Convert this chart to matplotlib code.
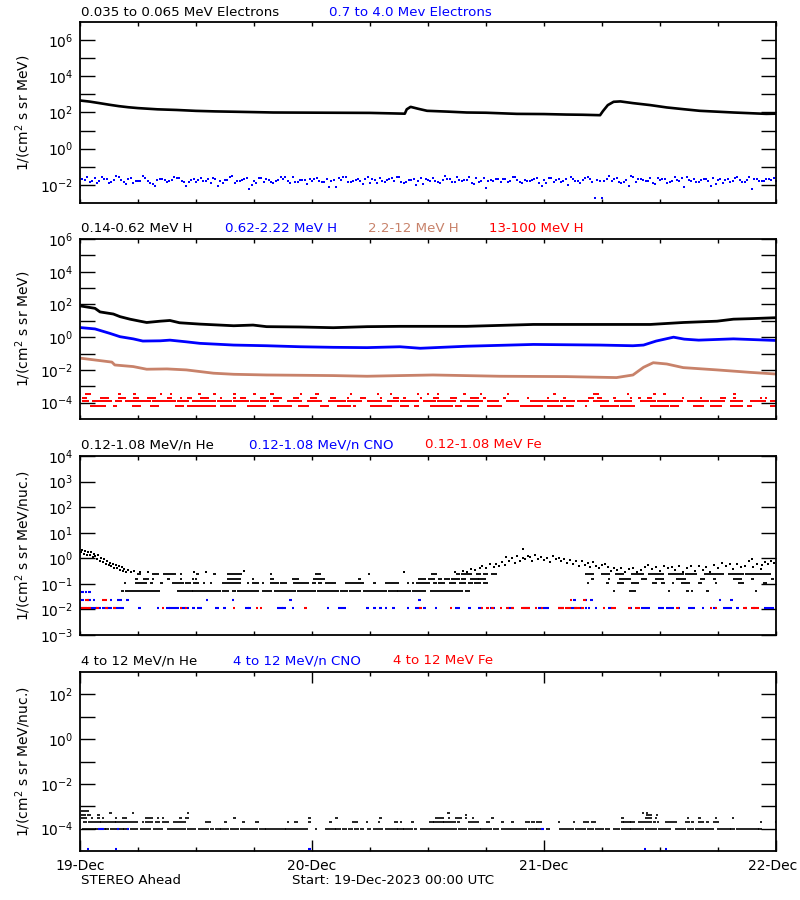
import numpy as np
import matplotlib as mpl
mpl.use('Agg')
import matplotlib.pyplot as plt
import matplotlib.transforms as mtransforms
from matplotlib.ticker import FixedLocator, NullFormatter, FuncFormatter

# ---------------- data (time in hours from 19-Dec-2023 00:00 UTC) ----------------
BLUE = '#0000FF'
RED = '#FF0000'
TAN = '#C8826A'

# panel 1: 0.035-0.065 MeV electrons (black line)
e_low_t = [0, 1, 2, 3, 4, 5, 6, 8, 10, 12, 14, 16, 18, 20, 22, 24, 26, 28, 30, 32, 33.6,
           33.8, 34.2, 35.0, 35.9, 38, 40, 42, 45.2, 48, 50.3, 52, 53.8, 54.1, 54.6, 55.2,
           55.9, 57.2, 59, 60.7, 62.4, 64.1, 67.6, 71, 72]
e_low_v = [460, 400, 330, 270, 225, 195, 175, 150, 138, 123, 115, 110, 105, 100, 99, 98, 97,
           96, 95, 90, 86, 150, 205, 160, 124, 112, 100, 97, 84, 82, 77, 75, 71, 120, 256, 390,
           410, 330, 256, 190, 153, 124, 100, 84, 86]

# panel 1: 0.7-4.0 MeV electrons (blue scatter), sampled every 0.5 h and twice hourly offsets
e_high_a = [0.008, 0.019, 0.014, 0.024, 0.016, 0.021, 0.012, 0.018, 0.027, 0.015,
            0.020, 0.013, 0.017, 0.030, 0.016, 0.011, 0.019, 0.022, 0.014, 0.018,
            0.025, 0.016, 0.009, 0.019, 0.015, 0.023, 0.017, 0.013, 0.021, 0.016,
            0.018, 0.027, 0.012, 0.017, 0.020, 0.006, 0.016, 0.024, 0.015, 0.019,
            0.013, 0.018, 0.022, 0.016, 0.028, 0.014, 0.019, 0.011, 0.017, 0.023,
            0.015, 0.020, 0.016, 0.008, 0.018, 0.026, 0.014, 0.019, 0.017, 0.021,
            0.012, 0.018, 0.024, 0.015, 0.020, 0.016, 0.029, 0.013, 0.018, 0.022,
            0.016, 0.011, 0.019, 0.025, 0.015, 0.018, 0.021, 0.014, 0.026, 0.017,
            0.019, 0.013, 0.023, 0.016, 0.007, 0.018, 0.022, 0.015, 0.020, 0.017,
            0.027, 0.014, 0.019, 0.016, 0.021, 0.012, 0.018, 0.024, 0.015, 0.020,
            0.017, 0.010, 0.022, 0.016, 0.019, 0.028, 0.014, 0.018, 0.0019, 0.021,
            0.016, 0.025, 0.013, 0.019, 0.031, 0.015, 0.020, 0.017, 0.023, 0.011,
            0.018, 0.021, 0.015, 0.026, 0.017, 0.008, 0.019, 0.022, 0.014, 0.020,
            0.016, 0.024, 0.018, 0.013, 0.021, 0.017, 0.027, 0.015, 0.019, 0.006,
            0.022, 0.016, 0.020, 0.018, 0.017]
e_high_b = [0.021, 0.016, 0.026, 0.014, 0.018, 0.023, 0.017, 0.012, 0.020, 0.016,
            0.025, 0.015, 0.019, 0.022, 0.009, 0.018, 0.016, 0.024, 0.013, 0.020,
            0.017, 0.028, 0.015, 0.019, 0.021, 0.014, 0.018, 0.026, 0.016, 0.011,
            0.020, 0.017, 0.023, 0.015, 0.019, 0.024, 0.016, 0.013, 0.021, 0.018,
            0.027, 0.015, 0.017, 0.022, 0.014, 0.019, 0.016, 0.025, 0.012, 0.018,
            0.020, 0.016, 0.023, 0.0019, 0.017, 0.021, 0.015, 0.029, 0.018, 0.013,
            0.020, 0.016, 0.024, 0.017, 0.019, 0.009, 0.022, 0.015, 0.018, 0.026,
            0.016, 0.020]
e_high_c = [0.026, 0.013, 0.020, 0.031, 0.011, 0.017, 0.024, 0.009, 0.019, 0.028,
            0.014, 0.021, 0.016, 0.025, 0.012, 0.030, 0.018, 0.010, 0.023, 0.015,
            0.027, 0.013, 0.019, 0.022, 0.016, 0.008, 0.024, 0.014, 0.020, 0.029,
            0.012, 0.018, 0.026, 0.015, 0.010, 0.022, 0.017, 0.031, 0.014, 0.019,
            0.011, 0.025, 0.016, 0.021, 0.028, 0.013, 0.018, 0.009, 0.023, 0.015,
            0.027, 0.012, 0.020, 0.017, 0.030, 0.014, 0.0085, 0.022, 0.016, 0.025,
            0.013, 0.019, 0.028, 0.015, 0.021, 0.011, 0.018, 0.024, 0.014, 0.020,
            0.017, 0.023]

# panel 2: proton channels (lines)
h1_t = [0.17, 1.55, 2.07, 3.45, 4.14, 5.17, 6.2, 6.9, 8.3, 9.3, 10.3, 12.4, 15.9, 17.9, 19.3,
        22.8, 26.2, 29.7, 33.1, 40, 46.9, 53.8, 59, 62.4, 65.9, 67.6, 69.3, 72]
h1_v = [79, 58, 35, 26, 18, 12.6, 9.5, 7.9, 9.5, 10.5, 7.6, 6.3, 5.0, 5.5, 4.4,
        4.2, 3.8, 4.4, 4.6, 4.6, 6.0, 6.0, 6.0, 7.9, 9.5, 12.6, 13.5, 15.5]
h2_t = [0.17, 1.55, 3.1, 4.14, 5.5, 6.5, 8.3, 9.3, 11.0, 12.4, 15.9, 19.3, 22.8, 26.2, 29.7,
        33.1, 35.2, 40, 46.9, 53.8, 57.2, 58.3, 59.6, 61.4, 62.5, 64, 67.6, 72]
h2_v = [3.8, 3.2, 1.7, 1.07, 0.79, 0.58, 0.60, 0.66, 0.52, 0.42, 0.33, 0.30, 0.26, 0.24, 0.23,
        0.26, 0.21, 0.28, 0.36, 0.33, 0.30, 0.33, 0.58, 1.0, 0.76, 0.66, 0.79, 0.63]
h3_t = [0.17, 2.07, 3.3, 3.6, 5.5, 6.9, 9.0, 11.0, 13.8, 15.9, 19.3, 22.8, 26.2, 29.7, 33.1,
        36.5, 43.4, 50.3, 55.5, 57.2, 58.3, 59.3, 60.7, 62.4, 65.9, 69.3, 72]
h3_v = [0.051, 0.037, 0.030, 0.020, 0.016, 0.011, 0.0115, 0.010, 0.0063, 0.0054, 0.0049,
        0.0047, 0.0045, 0.0041, 0.0045, 0.0049, 0.0041, 0.0039, 0.0034, 0.0049, 0.0145,
        0.0275, 0.023, 0.0138, 0.010, 0.0071, 0.0056]

# panel 2: 13-100 MeV H (red, quantised levels) -> runs (t_start, t_end)
h4_levels = [6.5e-5, 1.3e-4, 1.95e-4, 3.25e-4]
h4_runs = [
    [(1.03, 2.41), (3.45, 3.62), (5.34, 6.03), (7.24, 7.93), (9.83, 10.52), (11.03, 13.79),
     (14.48, 15.86), (17.24, 18.97), (20.0, 21.72), (22.59, 23.45), (24.83, 25.52),
     (26.55, 27.76), (28.28, 28.28), (30.0, 32.07), (33.1, 33.8), (34.5, 34.8), (36.2, 38.3),
     (38.8, 39.3), (40.0, 41.0), (42.1, 43.4), (45.5, 47.6), (48.3, 49.7), (50.3, 50.9),
     (52.2, 52.2), (53.8, 55.5), (55.9, 57.2), (59.0, 60.7), (61.0, 61.7), (63.4, 64.3),
     (65.2, 66.2), (67.2, 68.3), (69.0, 69.3), (71.4, 72.0)],
    [(0.17, 0.69), (1.2, 3.1), (3.62, 4.14), (4.66, 6.21), (6.38, 7.07), (7.41, 9.65),
     (10.0, 11.03), (11.55, 13.79), (14.14, 15.52), (15.86, 17.24), (17.59, 19.31),
     (19.66, 20.34), (21.38, 22.76), (23.45, 24.83), (25.69, 27.24), (27.59, 28.97),
     (29.66, 31.03), (31.72, 32.76), (33.1, 34.8), (35.5, 36.55), (36.9, 38.6), (39.3, 41.4),
     (42.1, 43.1), (44.1, 45.2), (46.55, 47.6), (47.9, 49.3), (49.65, 51.0), (51.4, 52.4),
     (53.1, 54.5), (55.2, 56.9), (57.9, 59.3), (59.65, 62.1), (62.75, 64.8), (65.2, 66.5),
     (67.2, 68.3), (69.3, 70.7), (71.4, 72.0)],
    [(0.17, 0.52), (2.07, 2.76), (3.97, 4.48), (5.52, 5.86), (6.9, 7.59), (8.97, 9.31),
     (10.34, 10.34), (11.03, 11.38), (12.41, 13.1), (14.48, 14.48), (15.86, 15.86),
     (16.55, 16.9), (18.62, 18.97), (20.0, 20.69), (22.07, 22.41), (23.79, 24.31),
     (25.86, 26.2), (27.59, 27.59), (28.97, 29.31), (31.03, 31.03), (32.41, 32.76),
     (33.45, 33.45), (35.17, 35.17), (36.55, 36.89), (38.27, 38.79), (40.34, 41.03),
     (41.72, 41.72), (43.79, 43.79), (46.2, 46.2), (48.27, 48.27), (50.0, 50.0),
     (52.58, 52.93), (53.44, 53.79), (55.17, 55.17), (56.89, 56.89), (57.75, 57.75),
     (58.62, 58.96), (62.24, 62.24), (64.13, 64.13), (66.2, 66.54), (67.58, 67.58),
     (70.34, 70.34), (70.86, 70.86)],
    [(0.52, 0.86), (3.97, 3.97), (5.52, 5.52), (8.28, 8.28), (9.31, 9.31), (12.24, 12.24),
     (13.79, 13.79), (15.86, 15.86), (17.93, 17.93), (19.66, 19.83), (22.76, 22.76),
     (24.31, 24.48), (27.93, 27.93), (30.69, 30.69), (32.07, 32.07), (34.82, 34.82),
     (35.86, 35.86), (36.89, 36.89), (39.65, 39.65), (41.38, 41.38), (44.13, 44.13),
     (48.96, 48.96), (53.1, 53.44), (56.55, 56.55), (59.3, 59.3), (60.34, 60.34),
     (67.58, 67.58)],
]

# panel 3: 0.12-1.08 MeV/n He (black), quantised low levels -> runs
he3_levels = [0.052, 0.11, 0.16, 0.24]
he3_runs = [
    [(4.2, 4.35), (4.65, 4.8), (5.1, 5.35), (5.6, 6.55), (6.8, 7.25), (7.5, 8.0), (10.0, 10.3),
     (10.5, 11.4), (11.6, 11.7), (12.0, 12.5), (12.7, 14.3), (14.65, 15.2), (15.7, 15.85),
     (16.2, 18.3), (18.8, 19.65), (20.1, 20.7), (21.0, 22.05), (22.4, 22.9), (23.2, 24.15),
     (24.5, 26.55), (26.9, 27.5), (27.85, 28.8), (29.25, 30.0), (30.2, 31.55), (31.9, 32.6),
     (32.75, 33.95), (34.3, 35.5), (36.2, 39.4), (39.8, 40.1), (55.1, 55.1), (56.8, 57.3),
     (60.8, 60.8), (62.7, 62.7), (63.2, 63.2), (64.8, 64.8), (69.8, 69.8)],
    [(4.5, 4.5), (5.7, 6.7), (7.25, 7.25), (8.3, 8.3), (9.5, 10.5), (10.9, 11.2), (11.7, 11.7),
     (12.05, 12.05), (12.7, 12.7), (13.45, 13.45), (14.65, 16.4), (17.25, 17.25),
     (17.75, 18.3), (18.8, 18.8), (19.65, 20.35), (20.7, 21.2), (22.05, 23.45), (24.0, 24.15),
     (24.65, 24.8), (25.35, 26.2), (27.4, 28.95), (29.15, 29.15), (30.35, 30.35),
     (31.55, 32.75), (33.8, 33.8), (34.3, 34.3), (34.8, 36.0), (36.5, 36.7), (37.0, 37.55),
     (38.2, 38.6), (39.2, 39.7), (40.15, 40.4), (40.8, 41.2), (41.7, 42.0), (52.4, 52.4),
     (54.45, 54.45), (55.5, 56.0), (57.05, 57.55), (59.2, 59.45), (60.15, 60.3), (61.2, 61.2),
     (62.2, 62.9), (63.95, 64.1), (65.65, 65.65), (68.05, 68.4), (70.65, 70.8)],
    [(5.7, 5.7), (6.55, 6.9), (7.4, 7.4), (9.05, 9.05), (10.35, 10.35), (11.55, 11.55),
     (11.9, 11.9), (15.2, 16.4), (17.75, 17.75), (19.65, 19.8), (21.9, 22.4), (24.15, 25.1),
     (28.8, 28.8), (35.0, 35.5), (36.0, 36.5), (37.0, 37.2), (37.7, 38.05), (38.4, 39.1),
     (39.45, 39.7), (40.3, 41.0), (41.2, 41.7), (52.9, 52.9), (54.6, 54.6), (55.8, 56.7),
     (58.05, 58.4), (59.45, 60.15), (61.7, 62.4), (64.1, 64.45), (65.5, 65.5), (67.55, 68.2),
     (69.45, 69.45), (71.5, 71.5)],
    [(5.85, 6.05), (7.4, 7.95), (8.6, 9.65), (10.35, 10.35), (12.05, 12.05), (13.8, 13.8),
     (15.2, 16.55), (19.65, 19.65), (24.3, 24.65), (29.8, 29.8), (36.35, 36.7), (38.9, 39.1),
     (39.45, 40.3), (41.0, 41.2), (41.7, 42.0), (42.55, 42.9), (52.2, 52.9), (53.9, 54.6),
     (55.3, 56.0), (57.05, 58.05), (58.75, 60.15), (60.8, 62.2), (62.55, 63.6), (64.6, 66.35),
     (67.05, 68.4), (68.75, 70.5), (70.8, 71.2)],
]
# panel 3: He upper values (scatter)
he3_t = [0.1, 0.25, 0.4, 0.55, 0.7, 0.85, 1.0, 1.15, 1.3, 1.45, 1.6, 1.75, 1.9, 2.05, 2.2,
         2.35, 2.5, 2.65, 2.8, 2.95, 3.1, 3.25, 3.4, 3.55, 3.7, 3.85, 4.0, 4.15, 4.3, 4.45,
         4.6, 4.8, 5.0, 5.3, 5.6, 6.2, 7.0, 11.8, 13.0, 17.0, 33.5,
         38.8, 39.6, 40.0, 40.4, 40.9, 41.4, 41.6, 42.0, 42.4, 42.8, 43.0, 43.3, 43.7, 44.0,
         44.1, 44.4, 44.7, 45.0, 45.2, 45.5, 45.8, 45.8, 46.0, 46.3, 46.5, 46.8, 47.1, 47.4,
         47.7, 48.0, 48.3, 48.6, 48.9, 49.2, 49.5, 49.8, 50.1, 50.4, 50.7, 51.0, 51.3, 51.6,
         51.9, 52.2, 52.5, 52.8, 53.1, 53.4, 53.7, 54.0, 54.3, 54.6, 54.9, 55.2, 55.6, 56.0,
         56.4, 56.8, 57.2, 57.6, 58.0, 58.4, 58.8, 59.2, 59.6, 60.0, 60.4, 60.8, 61.2, 61.6,
         62.0, 62.4, 62.8, 63.2, 63.6, 64.0, 64.4, 64.8, 65.2, 65.6, 66.0, 66.4, 66.8, 67.2,
         67.6, 68.0, 68.4, 68.8, 69.2, 69.5, 69.6, 70.0, 70.4, 70.6, 70.9, 71.2, 71.5, 71.8]
he3_v = [1.8, 2.1, 1.5, 1.9, 1.3, 1.7, 1.4, 1.8, 1.1, 1.5, 1.25, 0.95, 1.35, 0.8, 1.05,
         0.7, 0.9, 0.6, 0.75, 0.55, 0.68, 0.5, 0.6, 0.42, 0.55, 0.4, 0.48, 0.35, 0.44, 0.32,
         0.38, 0.30, 0.35, 0.28, 0.33, 0.30, 0.28, 0.30, 0.28, 0.32, 0.30,
         0.30, 0.32, 0.29, 0.38, 0.34, 0.42, 0.50, 0.40, 0.60, 0.45, 0.62, 0.50, 0.70, 0.55,
         1.1, 0.80, 1.0, 0.65, 1.2, 0.75, 1.0, 2.3, 0.90, 1.25, 1.1, 0.80, 1.3, 0.95,
         1.15, 0.85, 1.05, 0.70, 1.2, 0.90, 1.0, 0.75, 0.90, 0.65, 0.85, 0.60, 0.75, 0.50,
         0.80, 0.55, 0.65, 0.45, 0.70, 0.50, 0.40, 0.55, 0.60, 0.45, 0.32, 0.40, 0.34, 0.42,
         0.30, 0.38, 0.40, 0.30, 0.36, 0.45, 0.55, 0.38, 0.45, 0.32, 0.50, 0.40, 0.44, 0.34,
         0.50, 0.30, 0.42, 0.48, 0.33, 0.50, 0.36, 0.45, 0.30, 0.55, 0.40, 0.65, 0.48, 0.58,
         0.38, 0.60, 0.45, 0.52, 0.75, 0.95, 0.45, 0.60, 0.38, 0.55, 0.70, 0.62, 0.80, 0.66]

# panel 3: CNO (blue) and Fe (red) at levels 0.0117, 0.024, 0.049
cno3_levels = [0.0117, 0.024, 0.049]
cno3_runs = [
    [(0.0, 0.5), (0.85, 1.55), (1.7, 1.9), (2.25, 2.6), (2.75, 3.1), (3.45, 4.3), (6.05, 6.05),
     (7.95, 7.95), (8.9, 9.05), (9.25, 10.0), (10.35, 10.7), (11.05, 11.05), (11.6, 11.6),
     (12.15, 12.35), (13.95, 14.15), (14.75, 14.9), (17.05, 17.25), (17.4, 17.4),
     (20.35, 20.7), (20.85, 21.05), (21.9, 21.9), (25.5, 25.5), (26.7, 27.25), (29.6, 29.6),
     (30.35, 30.35), (30.95, 30.95), (31.55, 31.55), (32.3, 32.3), (33.8, 33.8),
     (34.65, 34.9), (35.5, 35.5), (36.7, 36.7), (38.75, 39.1), (40.15, 40.15), (41.2, 41.35),
     (42.4, 42.65), (44.3, 44.6), (45.8, 46.35), (47.4, 47.55), (47.9, 48.25), (49.45, 49.8),
     (50.8, 51.15), (51.7, 51.7), (52.2, 52.2), (52.55, 52.55), (53.25, 53.25), (54.6, 54.8),
     (56.85, 56.85), (58.05, 58.75), (59.8, 60.15), (60.65, 61.2), (61.85, 61.85),
     (62.9, 63.4), (64.3, 64.3), (65.5, 65.5), (66.5, 67.2), (67.9, 67.9), (68.75, 68.75),
     (69.6, 69.6), (70.8, 71.5)],
    [(0.15, 0.15), (0.7, 0.85), (1.3, 1.3), (3.1, 3.1), (3.85, 4.05), (4.8, 4.8), (13.0, 13.0),
     (15.7, 15.7), (21.65, 21.65), (35.0, 35.0), (51.05, 51.05), (52.2, 52.2), (52.8, 52.8),
     (66.1, 66.1), (67.25, 67.25)],
    [(0.15, 0.15), (0.5, 0.5), (0.85, 0.85)],
]
fe3_levels = [0.0117, 0.024]
fe3_runs = [
    [(0.15, 0.5), (0.7, 0.85), (1.7, 1.7), (2.6, 2.6), (3.45, 3.45), (8.45, 8.45),
     (10.3, 10.3), (10.85, 10.85), (15.8, 15.8), (18.2, 18.2), (18.6, 18.6), (23.2, 23.2),
     (35.1, 35.1), (38.25, 38.25), (41.45, 41.45), (42.05, 42.05), (42.55, 42.55),
     (43.4, 43.4), (44.1, 44.1), (44.6, 44.6), (45.65, 46.35), (47.05, 47.05), (47.65, 47.65),
     (49.45, 49.8), (50.15, 50.5), (51.15, 51.45), (51.85, 51.85), (54.1, 54.1),
     (54.95, 55.15), (56.7, 56.7), (57.45, 57.65), (61.7, 61.7), (65.15, 65.15),
     (65.65, 65.65), (68.6, 68.75), (69.4, 69.95)],
    [(0.5, 0.7), (2.25, 2.5), (50.65, 50.65), (52.05, 52.05)],
]

# panel 4: 4-12 MeV/n He (black), quantised levels -> runs
he4_levels = [1.0e-4, 2.0e-4, 3.0e-4, 4.0e-4, 5.0e-4, 6.0e-4]
he4_runs = [
    [(0.2, 1.4), (1.55, 2.4), (2.6, 2.75), (3.1, 3.6), (3.95, 4.3), (4.4, 4.85), (5.15, 5.7),
     (6.2, 7.05), (7.5, 8.35), (9.05, 9.5), (9.7, 10.35), (10.6, 10.75), (11.05, 11.7),
     (12.25, 13.1), (13.4, 13.6), (13.95, 14.3), (14.5, 15.2), (15.5, 16.2), (16.5, 18.2),
     (18.55, 18.95), (19.15, 21.05), (21.2, 23.3), (24.3, 24.3), (25.35, 26.2), (26.4, 26.75),
     (27.1, 27.4), (27.75, 27.95), (28.3, 28.6), (29.0, 29.15), (29.65, 29.85), (30.35, 31.05),
     (31.55, 32.6), (32.75, 33.3), (33.45, 34.15), (34.5, 34.65), (35.2, 36.5), (36.7, 38.05),
     (38.25, 38.75), (39.1, 39.8), (40.15, 41.2), (41.35, 42.4), (42.75, 43.05), (43.6, 44.8),
     (44.95, 46.0), (46.35, 47.05), (47.2, 47.4), (48.25, 48.4), (49.6, 50.85), (51.2, 52.05),
     (52.4, 52.9), (53.25, 53.95), (54.3, 54.6), (55.15, 55.65), (56.0, 56.7), (56.85, 58.05),
     (58.4, 59.45), (59.8, 60.3), (60.5, 60.85), (61.5, 62.4), (62.75, 63.25), (63.6, 64.3),
     (64.6, 65.3), (65.85, 67.05), (67.2, 67.55), (67.9, 69.1), (69.3, 70.0), (70.15, 70.3)],
    [(0.35, 0.5), (0.85, 1.2), (1.4, 1.9), (2.05, 3.45), (3.6, 3.8), (4.05, 4.65), (4.85, 5.7),
     (6.4, 6.4), (6.7, 7.3), (7.75, 8.0), (8.45, 8.95), (9.65, 10.7), (12.95, 13.3),
     (14.85, 15.0), (16.8, 16.8), (18.1, 18.3), (21.4, 21.4), (22.15, 22.3), (23.6, 23.6),
     (25.8, 25.8), (28.1, 28.55), (29.55, 29.55), (30.8, 30.8), (32.45, 32.65), (33.1, 33.1),
     (34.25, 34.25), (36.15, 36.35), (36.5, 37.4), (37.55, 38.05), (38.25, 38.6),
     (38.95, 39.1), (40.15, 41.0), (42.05, 42.2), (43.6, 43.6), (44.6, 44.6), (46.0, 46.35),
     (46.7, 46.85), (47.2, 47.55), (49.45, 49.45), (51.0, 51.0), (52.05, 52.4), (52.9, 53.1),
     (56.0, 56.0), (56.2, 56.7), (56.85, 57.2), (57.75, 58.25), (58.6, 58.95), (59.3, 59.3),
     (59.65, 59.65), (60.5, 61.5), (62.55, 62.9), (63.25, 63.25), (63.95, 64.3), (64.8, 64.8),
     (65.5, 65.85), (70.3, 70.3), (71.9, 71.9)],
    [(0.1, 0.3), (0.5, 0.5), (1.1, 1.1), (1.8, 1.8), (2.25, 2.25), (3.6, 3.6), (4.3, 4.65),
     (6.7, 7.25), (7.95, 7.95), (8.45, 8.45), (10.25, 10.25), (10.85, 11.05), (15.85, 15.85),
     (23.6, 23.6), (26.4, 26.4), (30.95, 30.95), (36.7, 37.4), (38.05, 38.05), (38.75, 39.3),
     (39.8, 39.8), (40.5, 40.5), (42.55, 42.55), (56.0, 56.0), (58.4, 58.95), (59.45, 59.45),
     (62.75, 62.75), (63.95, 63.95), (65.65, 65.65), (67.4, 67.4)],
    [(0.15, 0.35), (0.7, 0.85), (1.8, 1.8), (39.8, 39.8), (58.6, 58.95), (59.55, 59.55)],
    [(3.05, 3.05), (5.35, 5.35), (11.05, 11.05), (38.0, 38.0), (58.1, 58.1), (58.5, 58.5)],
    [(0.15, 0.7)],
]
# panel 4: CNO (blue)
cno4_levels = [1.0e-4, 1.26e-5]
cno4_runs = [
    [(1.9, 2.25), (3.8, 3.8), (4.85, 4.85), (47.7, 47.7)],
    [(0.7, 0.7), (3.6, 3.6), (23.6, 23.6), (58.35, 58.35), (60.5, 60.5)],
]

# ---------------- figure ----------------
plt.rc('font', family='DejaVu Sans')
W, H = 800.0, 900.0
fig = plt.figure(figsize=(8, 9), dpi=100)
ftsize = 10
tsize = 9.6


def make_axes(top, bottom):
    return fig.add_axes([80 / W, 1 - bottom / H, 696 / W, (bottom - top) / H])


def dec_fmt(v, pos):
    return r'$10^{%d}$' % int(round(np.log10(v)))


def style(ax, ylim, majors, minors, ylabel, bottom_labels=False):
    ax.set_yscale('log')
    ax.set_ylim(*ylim)
    ax.set_xlim(0, 72)
    ax.yaxis.set_major_locator(FixedLocator([10.0 ** e for e in majors]))
    ax.yaxis.set_minor_locator(FixedLocator([10.0 ** e for e in minors]))
    ax.yaxis.set_major_formatter(FuncFormatter(dec_fmt))
    ax.yaxis.set_minor_formatter(NullFormatter())
    ax.tick_params(axis='y', which='both', direction='in', left=True, right=True,
                   length=10.5, width=1.0, labelsize=ftsize, pad=5)
    ax.xaxis.set_major_locator(FixedLocator([0, 24, 48, 72]))
    ax.xaxis.set_minor_locator(FixedLocator(list(range(6, 72, 6))))
    ax.tick_params(axis='x', which='both', direction='in', top=True, bottom=True,
                   length=3, width=1.0)
    if bottom_labels:
        ax.set_xticklabels(['19-Dec', '20-Dec', '21-Dec', '22-Dec'])
        ax.tick_params(axis='x', which='major', length=8, labelsize=ftsize, pad=6)
        # keep the last date label inside the canvas
        last = ax.get_xticklabels()[-1]
        shift = mtransforms.ScaledTranslation(-3 / 100.0, 0, fig.dpi_scale_trans)
        last.set_transform(last.get_transform() + shift)
    else:
        ax.xaxis.set_major_formatter(NullFormatter())
    for sp in ax.spines.values():
        sp.set_linewidth(1.3)
    ax.set_ylabel(ylabel, fontsize=ftsize)
    ax.yaxis.set_label_coords(-0.068, 0.5)


def draw_runs(ax, runs, level, color, lw=1.5):
    t0 = np.array([r[0] for r in runs])
    t1 = np.array([r[1] for r in runs]) + 0.25
    ax.hlines(np.full(len(runs), level), t0, t1, colors=color, lw=lw)


def titles(y, items):
    for x, txt, col in items:
        fig.text(x / W, 1 - y / H, txt, color=col, fontsize=tsize, ha='left', va='center')


unit1 = r'1/(cm$^2$ s sr MeV)'
unit2 = r'1/(cm$^2$ s sr MeV/nuc.)'

# panel 1
ax1 = make_axes(22, 203)
ax1.plot(e_low_t, e_low_v, '-', color='k', lw=1.9)
ax1.plot(0.5 * np.arange(len(e_high_a)), e_high_a, 's', color=BLUE, ms=1.9, mew=0)
ax1.plot(0.25 + np.arange(len(e_high_b)), e_high_b, 's', color=BLUE, ms=1.9, mew=0)
ax1.plot(0.75 + np.arange(len(e_high_c)), e_high_c, 's', color=BLUE, ms=1.9, mew=0)
style(ax1, (1e-3, 1e7), [-2, 0, 2, 4, 6], [-1, 1, 3, 5], unit1)
titles(13, [(81, '0.035 to 0.065 MeV Electrons', 'k'),
            (329, '0.7 to 4.0 Mev Electrons', BLUE)])

# panel 2
ax2 = make_axes(239, 419)
ax2.plot(h1_t, h1_v, '-', color='k', lw=2.0)
ax2.plot(h2_t, h2_v, '-', color=BLUE, lw=2.0)
ax2.plot(h3_t, h3_v, '-', color=TAN, lw=2.0)
for lev, runs in zip(h4_levels, h4_runs):
    draw_runs(ax2, runs, lev, RED, lw=1.4)
style(ax2, (1e-5, 1e6), [-4, -2, 0, 2, 4, 6], [-3, -1, 1, 3, 5], unit1)
titles(229, [(81, '0.14-0.62 MeV H', 'k'), (225, '0.62-2.22 MeV H', BLUE),
             (368, '2.2-12 MeV H', TAN), (489, '13-100 MeV H', RED)])

# panel 3
ax3 = make_axes(456, 635)
for lev, runs in zip(he3_levels, he3_runs):
    draw_runs(ax3, runs, lev, 'k', lw=1.3)
ax3.plot(he3_t, he3_v, 's', color='k', ms=1.6, mew=0)
for lev, runs in zip(cno3_levels, cno3_runs):
    draw_runs(ax3, runs, lev, BLUE, lw=1.5)
for lev, runs in zip(fe3_levels, fe3_runs):
    draw_runs(ax3, runs, lev, RED, lw=1.5)
style(ax3, (1e-3, 1e4), [-3, -2, -1, 0, 1, 2, 3, 4], [], unit2)
titles(445, [(81, '0.12-1.08 MeV/n He', 'k'), (249, '0.12-1.08 MeV/n CNO', BLUE),
             (425, '0.12-1.08 MeV Fe', RED)])

# panel 4
ax4 = make_axes(672, 851)
for lev, runs in zip(he4_levels, he4_runs):
    draw_runs(ax4, runs, lev, 'k', lw=1.2)
for lev, runs in zip(cno4_levels, cno4_runs):
    draw_runs(ax4, runs, lev, BLUE, lw=1.5)
style(ax4, (1e-5, 1e3), [-4, -2, 0, 2], [-3, -1, 1], unit2, bottom_labels=True)
titles(661, [(81, '4 to 12 MeV/n He', 'k'), (233, '4 to 12 MeV/n CNO', BLUE),
             (393, '4 to 12 MeV Fe', RED)])

fig.text(81 / W, 1 - 881 / H, 'STEREO Ahead', fontsize=tsize, ha='left', va='center')
fig.text(292 / W, 1 - 881 / H, 'Start: 19-Dec-2023 00:00 UTC', fontsize=tsize,
         ha='left', va='center')

plt.savefig('out.png', dpi=100)
